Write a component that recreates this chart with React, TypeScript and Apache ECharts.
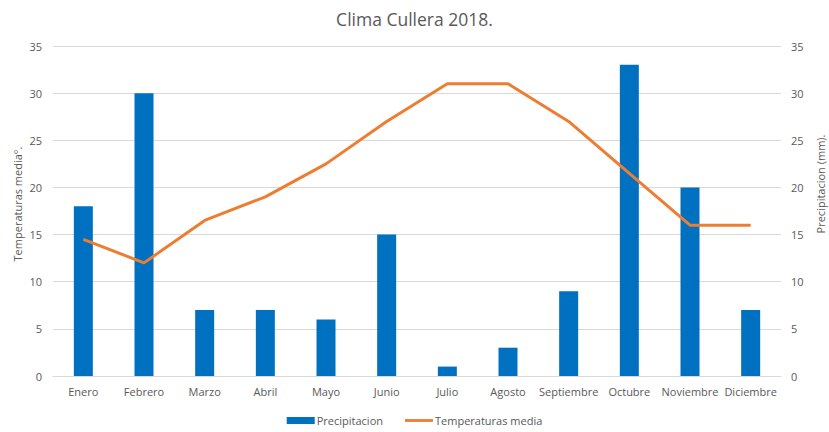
import React, { useEffect, useRef } from "react";
import * as echarts from "echarts";

const months = ["Enero", "Febrero", "Marzo", "Abril", "Mayo", "Junio", "Julio", "Agosto", "Septiembre", "Octubre", "Noviembre", "Diciembre"];
const precipitacion = [18, 30, 7, 7, 6, 15, 1, 3, 9, 33, 20, 7];
const temperaturas = [14.5, 12, 16.5, 19, 22.5, 27, 31, 31, 27, 21.5, 16, 16];

const FONT = "'Open Sans', sans-serif";
const GREY = "#595959";

export default function App() {
  const ref = useRef<HTMLDivElement>(null);
  useEffect(() => {
    if (!ref.current) return;
    const chart = echarts.init(ref.current, undefined, { renderer: "svg" });
    chart.setOption({
      animation: false,
      backgroundColor: "#ffffff",
      title: {
        text: "Clima Cullera 2018.",
        left: "center",
        top: 5,
        textStyle: { fontFamily: FONT, fontSize: 17.5, fontWeight: "normal", color: GREY },
      },
      legend: {
        bottom: 1,
        left: "center",
        itemGap: 22,
        itemWidth: 28,
        itemHeight: 7,
        textStyle: { fontFamily: FONT, fontSize: 11, color: GREY, padding: [0, 0, 0, -3] },
        data: [
          { name: "Precipitacion", icon: "rect" },
          { name: "Temperaturas media", icon: "path://M0,0 L30,0 L30,3 L0,3 Z" },
        ],
      },
      graphic: [
        {
          type: "text",
          x: 17,
          y: 204,
          rotation: Math.PI / 2,
          style: {
            text: "Temperaturas media°.",
            fontFamily: FONT,
            fontSize: 11,
            fill: GREY,
            align: "center",
            verticalAlign: "middle",
          },
        },
        {
          type: "text",
          x: 820,
          y: 184,
          rotation: Math.PI / 2,
          style: {
            text: "Precipitacion (mm).",
            fontFamily: FONT,
            fontSize: 11,
            fill: GREY,
            align: "center",
            verticalAlign: "middle",
          },
        },
      ],
      grid: { left: 53, right: 48, top: 46, bottom: 56, containLabel: false, outerBoundsMode: "none" },
      xAxis: {
        type: "category",
        data: months,
        axisLine: { lineStyle: { color: "#d9d9d9" } },
        axisTick: { show: false },
        axisLabel: { fontFamily: FONT, fontSize: 11, color: GREY, margin: 10, interval: 0 },
      },
      yAxis: [
        {
          type: "value",
          min: 0,
          max: 35,
          interval: 5,
          axisLabel: { fontFamily: FONT, fontSize: 11, color: GREY, margin: 11 },
          axisLine: { show: false },
          axisTick: { show: false },
          splitLine: { lineStyle: { color: "#d9d9d9" } },
        },
        {
          type: "value",
          min: 0,
          max: 35,
          interval: 5,
          position: "right",
          axisLabel: { fontFamily: FONT, fontSize: 11, color: GREY, margin: 10 },
          axisLine: { show: false },
          axisTick: { show: false },
          splitLine: { show: false },
        },
      ],
      series: [
        {
          name: "Precipitacion",
          type: "bar",
          yAxisIndex: 1,
          data: precipitacion,
          barWidth: 19,
          itemStyle: { color: "#0070C0" },
        },
        {
          name: "Temperaturas media",
          type: "line",
          yAxisIndex: 0,
          data: temperaturas,
          symbol: "none",
          lineStyle: { color: "#ED7D31", width: 3 },
          itemStyle: { color: "#ED7D31" },
        },
      ],
    });
    return () => chart.dispose();
  }, []);
  return <div ref={ref} style={{ width: 829, height: 432, position: "absolute", left: 0, top: 0 }} />;
}
